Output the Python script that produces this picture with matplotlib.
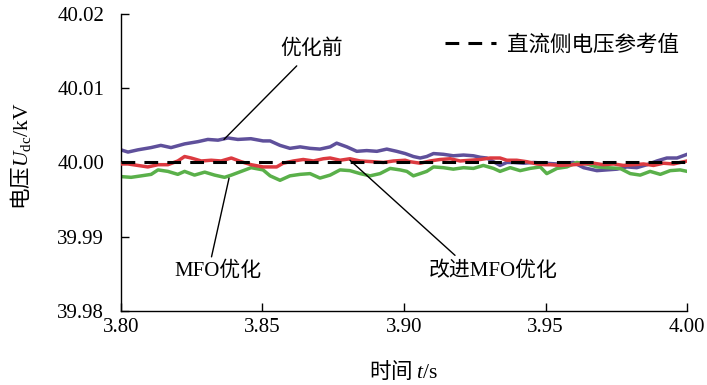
import matplotlib
matplotlib.use("Agg")
import matplotlib.pyplot as plt

plt.rcParams['font.family'] = ['Liberation Serif', 'Noto Sans CJK SC']
# mathtext: Latin parts in serif; text outside $ uses the label's own family
plt.rcParams['mathtext.fontset'] = 'custom'
plt.rcParams['mathtext.rm'] = 'Liberation Serif'
plt.rcParams['mathtext.it'] = 'Liberation Serif:italic'
plt.rcParams['mathtext.sf'] = 'Liberation Serif'

# values
t_before = [3.8000, 3.8025, 3.8060, 3.8106, 3.8141, 3.8177, 3.8225, 3.8272, 3.8307, 3.8343,
            3.8378, 3.8413, 3.8459, 3.8502, 3.8527, 3.8562, 3.8597, 3.8633, 3.8668, 3.8703,
            3.8739, 3.8762, 3.8798, 3.8833, 3.8868, 3.8904, 3.8939, 3.8974, 3.9004, 3.9033,
            3.9057, 3.9080, 3.9104, 3.9139, 3.9174, 3.9210, 3.9245, 3.9269, 3.9292, 3.9316,
            3.9339, 3.9363, 3.9386, 3.9422, 3.9457, 3.9498, 3.9540, 3.9598, 3.9634, 3.9681,
            3.9716, 3.9752, 3.9787, 3.9822, 3.9858, 3.9893, 3.9928, 3.9964, 4.0000]
u_before = [40.0017, 40.0014, 40.0017, 40.0020, 40.0023, 40.0020, 40.0025, 40.0028, 40.0031, 40.0030,
            40.0033, 40.0031, 40.0032, 40.0029, 40.0029, 40.0023, 40.0019, 40.0021, 40.0019, 40.0018,
            40.0021, 40.0026, 40.0021, 40.0015, 40.0016, 40.0015, 40.0018, 40.0015, 40.0012, 40.0008,
            40.0006, 40.0008, 40.0012, 40.0011, 40.0009, 40.0010, 40.0009, 40.0007, 40.0006, 40.0001,
            39.9996, 40.0000, 40.0000, 39.9999, 40.0000, 39.9999, 39.9998, 40.0000, 39.9993, 39.9989,
            39.9990, 39.9991, 39.9994, 39.9993, 39.9997, 40.0002, 40.0006, 40.0006, 40.0011]

t_mfo = [3.8000, 3.8036, 3.8072, 3.8107, 3.8131, 3.8166, 3.8201, 3.8225, 3.8260, 3.8296,
         3.8331, 3.8366, 3.8390, 3.8425, 3.8460, 3.8502, 3.8527, 3.8562, 3.8597, 3.8633,
         3.8668, 3.8703, 3.8739, 3.8774, 3.8809, 3.8845, 3.8880, 3.8915, 3.8951, 3.8986,
         3.9010, 3.9033, 3.9057, 3.9080, 3.9104, 3.9139, 3.9174, 3.9210, 3.9245, 3.9280,
         3.9316, 3.9339, 3.9375, 3.9410, 3.9445, 3.9481, 3.9504, 3.9540, 3.9575, 3.9610,
         3.9646, 3.9681, 3.9716, 3.9763, 3.9799, 3.9834, 3.9869, 3.9905, 3.9940, 3.9975, 4.0000]
u_mfo = [39.9981, 39.9980, 39.9982, 39.9984, 39.9990, 39.9988, 39.9984, 39.9988, 39.9983, 39.9987,
         39.9983, 39.9980, 39.9983, 39.9988, 39.9993, 39.9990, 39.9982, 39.9976, 39.9982, 39.9984,
         39.9985, 39.9979, 39.9983, 39.9990, 39.9989, 39.9985, 39.9982, 39.9985, 39.9992, 39.9990,
         39.9988, 39.9982, 39.9985, 39.9988, 39.9994, 39.9993, 39.9991, 39.9993, 39.9992, 39.9996,
         39.9992, 39.9988, 39.9993, 39.9989, 39.9992, 39.9994, 39.9985, 39.9992, 39.9994, 40.0000,
         39.9998, 39.9994, 39.9993, 39.9992, 39.9985, 39.9983, 39.9988, 39.9984, 39.9989, 39.9990, 39.9988]

t_imfo = [3.8000, 3.8025, 3.8060, 3.8095, 3.8131, 3.8166, 3.8201, 3.8225, 3.8248, 3.8284,
          3.8319, 3.8354, 3.8390, 3.8425, 3.8460, 3.8502, 3.8527, 3.8550, 3.8573, 3.8609,
          3.8644, 3.8680, 3.8715, 3.8739, 3.8774, 3.8809, 3.8845, 3.8892, 3.8927, 3.8962,
          3.9004, 3.9021, 3.9057, 3.9092, 3.9127, 3.9163, 3.9198, 3.9233, 3.9269, 3.9304,
          3.9339, 3.9363, 3.9398, 3.9434, 3.9469, 3.9498, 3.9516, 3.9551, 3.9598, 3.9634,
          3.9669, 3.9704, 3.9740, 3.9775, 3.9810, 3.9846, 3.9881, 3.9916, 3.9952, 3.9975, 4.0000]
u_imfo = [39.9998, 39.9998, 39.9996, 39.9994, 39.9997, 39.9997, 40.0002, 40.0008, 40.0006, 40.0002,
          40.0003, 40.0002, 40.0006, 40.0001, 39.9997, 39.9994, 39.9994, 39.9994, 39.9999, 40.0002,
          40.0004, 40.0002, 40.0005, 40.0006, 40.0003, 40.0005, 40.0002, 40.0001, 40.0000, 40.0002,
          40.0003, 40.0001, 39.9999, 40.0002, 40.0004, 40.0005, 40.0002, 40.0003, 40.0004, 40.0006,
          40.0006, 40.0003, 40.0003, 40.0001, 39.9998, 39.9997, 39.9997, 39.9996, 39.9997, 39.9998,
          39.9999, 39.9997, 39.9998, 39.9996, 39.9997, 39.9998, 39.9996, 39.9999, 39.9998, 40.0000, 40.0002]

u_ref = 40.00
x_ticks = [3.80, 3.85, 3.90, 3.95, 4.00]
y_ticks = [39.98, 39.99, 40.00, 40.01, 40.02]

fig = plt.figure(figsize=(7.07, 3.85), dpi=100)
ax = fig.add_axes([0.171, 0.192, 0.801, 0.772])

ax.plot(t_before, u_before, color='#5f509b', lw=2.5, zorder=2)
ax.plot(t_mfo, u_mfo, color='#5ab04a', lw=2.5, zorder=2)
ax.plot(t_imfo, u_imfo, color='#dc3a40', lw=2.5, zorder=3)
ax.plot([3.80, 4.00], [u_ref, u_ref], color='black', lw=2.2, dashes=(4.5, 3.0),
        zorder=4, label='直流侧电压参考值')

ax.set_xlim(3.80, 4.00)
ax.set_ylim(39.98, 40.02)
ax.set_xticks(x_ticks)
ax.set_xticklabels([f"{v:.2f}" for v in x_ticks])
ax.set_yticks(y_ticks)
ax.set_yticklabels([f"{v:.2f}" for v in y_ticks])
ax.tick_params(direction='in', length=6, width=1, labelsize=15)
ax.tick_params(axis='y', pad=12)
ax.tick_params(axis='x', pad=5)
for s in ['top', 'right']:
    ax.spines[s].set_visible(False)
for s in ['left', 'bottom']:
    ax.spines[s].set_linewidth(1)

cjk = 'Noto Sans CJK SC'
ax.set_ylabel(r'电压$U_{\mathsf{dc}}\mathsf{/kV}$', fontsize=15.5, family=cjk)
ax.yaxis.set_label_coords(-0.155, 0.52)
ax.set_xlabel(r'时间 $t\mathsf{/s}$', fontsize=15.5, labelpad=16, family=cjk)

ax.legend(loc='upper right', bbox_to_anchor=(1.02, 0.995), frameon=False, fontsize=15.5,
          handlelength=2.4, handletextpad=0.5)

# callouts
ax.annotate('', xy=(3.8364, 40.0031), xytext=(3.8621, 40.0130),
            arrowprops=dict(arrowstyle='-', color='black', lw=1, shrinkA=0, shrinkB=0))
ax.text(3.8675, 40.0152, '优化前', fontsize=15, ha='center', va='center')
ax.annotate('', xy=(3.8382, 39.9979), xytext=(3.8320, 39.9873),
            arrowprops=dict(arrowstyle='-', color='black', lw=1, shrinkA=0, shrinkB=0))
ax.text(3.8341, 39.9853, 'MFO优化', fontsize=15, ha='center', va='center')
ax.annotate('', xy=(3.8809, 40.0003), xytext=(3.9180, 39.9875),
            arrowprops=dict(arrowstyle='-', color='black', lw=1, shrinkA=0, shrinkB=0))
ax.text(3.9314, 39.9853, '改进MFO优化', fontsize=15, ha='center', va='center')

fig.savefig('out.png', dpi=100)
